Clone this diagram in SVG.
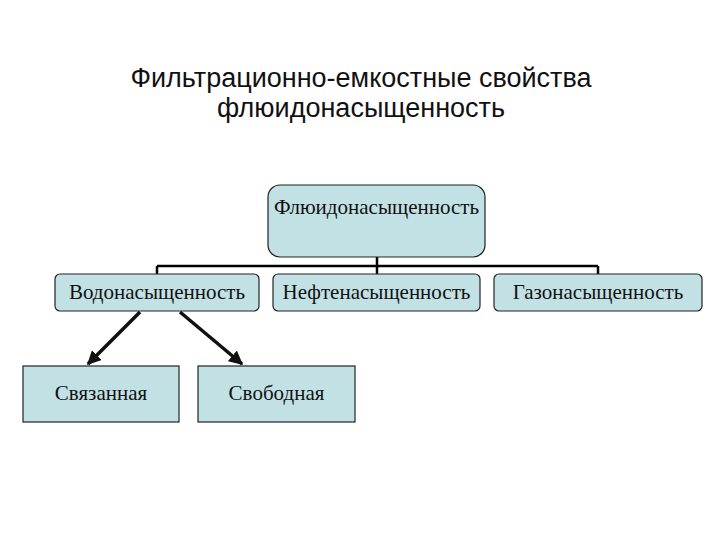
<svg xmlns="http://www.w3.org/2000/svg" width="720" height="540" viewBox="0 0 720 540">
<style>
.box{fill:#C2E1E4;stroke:#222;stroke-width:1.2}
.t{font-family:"Liberation Serif",serif;font-size:21px;fill:#111;text-anchor:middle}
.title{font-family:"Liberation Sans",Arial,sans-serif;font-size:27px;fill:#111;text-anchor:middle}
.ln{stroke:#000;stroke-width:2.5;fill:none}
.ar{stroke:#111;stroke-width:3.5;fill:none}
</style>
<defs>
<marker id="ah" viewBox="0 0 10 10" refX="9" refY="5" markerWidth="4" markerHeight="4" orient="auto" markerUnits="strokeWidth">
<path d="M0,0 L10,5 L0,10 z" fill="#111"/>
</marker>
</defs>
<rect width="720" height="540" fill="#fff"/>
<text class="title" x="361" y="87">Фильтрационно-емкостные свойства</text>
<text class="title" x="361" y="117">флюидонасыщенность</text>
<g id="connectors">
<path class="ln" d="M377,257 V266 M157,266 H598 M157,266 V275 M377,266 V275 M598,266 V275"/>
<line class="ar" x1="140" y1="312" x2="88" y2="364" marker-end="url(#ah)"/>
<line class="ar" x1="180" y1="312" x2="242" y2="364" marker-end="url(#ah)"/>
</g>
<g id="n_fluid">
<rect class="box" x="268" y="185" width="217" height="72" rx="12"/>
<text class="t" x="376.5" y="214">Флюидонасыщенность</text>
</g>
<g id="n_water">
<rect class="box" x="55" y="274" width="204" height="37" rx="5"/>
<text class="t" x="157" y="299">Водонасыщенность</text>
</g>
<g id="n_oil">
<rect class="box" x="273" y="274" width="207" height="37" rx="5"/>
<text class="t" x="376.5" y="299">Нефтенасыщенность</text>
</g>
<g id="n_gas">
<rect class="box" x="494" y="274" width="208" height="37" rx="5"/>
<text class="t" x="598" y="299">Газонасыщенность</text>
</g>
<g id="n_bound">
<rect class="box" x="23" y="366" width="156" height="56"/>
<text class="t" x="101" y="400">Связанная</text>
</g>
<g id="n_free">
<rect class="box" x="198" y="366" width="157" height="56"/>
<text class="t" x="276.5" y="400">Свободная</text>
</g>
</svg>
